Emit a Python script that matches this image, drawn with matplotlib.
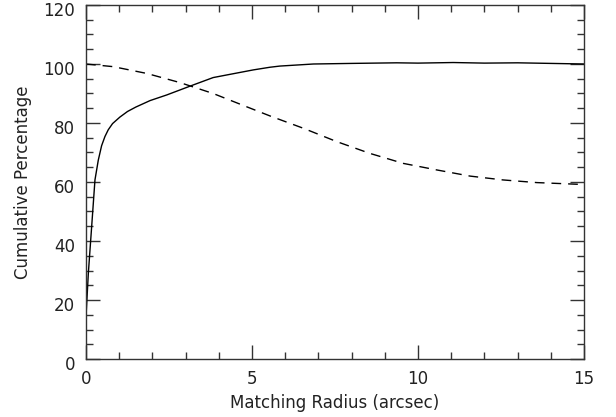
import numpy as np
import matplotlib
matplotlib.use('Agg')
import matplotlib.pyplot as plt
import matplotlib.transforms as mtransforms
from matplotlib.ticker import MultipleLocator

# solid curve: cumulative percentage of matches vs radius
radius_solid = [0.0, 0.07, 0.17, 0.27, 0.37, 0.47, 0.57, 0.67, 0.8, 1.02, 1.25, 1.5, 1.93,
                2.43, 2.83, 3.23, 3.83, 4.34, 5.04, 5.54, 5.84, 6.85, 8.0, 9.36, 10.0,
                11.06, 12.0, 13.0, 14.0, 15.0]
pct_solid = [14.3, 29.0, 44.8, 60.7, 67.4, 72.3, 75.4, 77.7, 79.8, 82.0, 83.9, 85.4, 87.6,
             89.5, 91.2, 92.9, 95.4, 96.5, 98.0, 98.9, 99.3, 100.0, 100.2, 100.4, 100.3,
             100.5, 100.3, 100.4, 100.2, 100.0]

# dashed curve
radius_dash = [0.0, 0.82, 1.83, 2.83, 3.83, 4.84, 5.54, 6.55, 7.55, 8.55, 9.56, 10.56,
               11.57, 12.56, 13.58, 14.88, 15.0]
pct_dash = [100.0, 99.1, 96.8, 93.7, 90.0, 85.5, 82.4, 78.2, 73.7, 69.7, 66.3, 64.1,
            62.0, 60.7, 59.8, 59.2, 59.1]

fig = plt.figure(figsize=(6.16, 4.17), dpi=100)
ax = fig.add_axes([86/616, 58/417, 498/616, 354/417])

ax.plot(radius_solid, pct_solid, color='black', lw=1.0)
ax.plot(radius_dash, pct_dash, color='black', lw=1.0, linestyle=(0, (7, 5)))

ax.set_xlim(0, 15)
ax.set_ylim(0, 120)
ax.xaxis.set_major_locator(MultipleLocator(5))
ax.xaxis.set_minor_locator(MultipleLocator(1))
ax.yaxis.set_major_locator(MultipleLocator(20))
ax.yaxis.set_minor_locator(MultipleLocator(5))
ax.tick_params(which='both', direction='in', top=True, right=True, color='#333333',
               labelsize=12, labelcolor='#222222')
ax.tick_params(which='major', length=10, width=1, pad=8)
ax.tick_params(which='minor', length=5, width=1)
for s in ax.spines.values():
    s.set_color('#333333')
    s.set_linewidth(1.0)

# nudge y tick labels down a little, like the original
fig.canvas.draw()
shift = mtransforms.ScaledTranslation(0, -3/72, fig.dpi_scale_trans)
for lab in ax.get_yticklabels():
    lab.set_transform(lab.get_transform() + shift)
top_lab = ax.get_yticklabels()[-1]
top_lab.set_transform(top_lab.get_transform() +
                      mtransforms.ScaledTranslation(0, -5/72, fig.dpi_scale_trans))

ax.set_xlabel('Matching Radius (arcsec)', fontsize=12, color='#222222', labelpad=4)
ax.set_ylabel('Cumulative Percentage', fontsize=12, color='#222222', labelpad=8)

fig.savefig('out.png', dpi=100)
